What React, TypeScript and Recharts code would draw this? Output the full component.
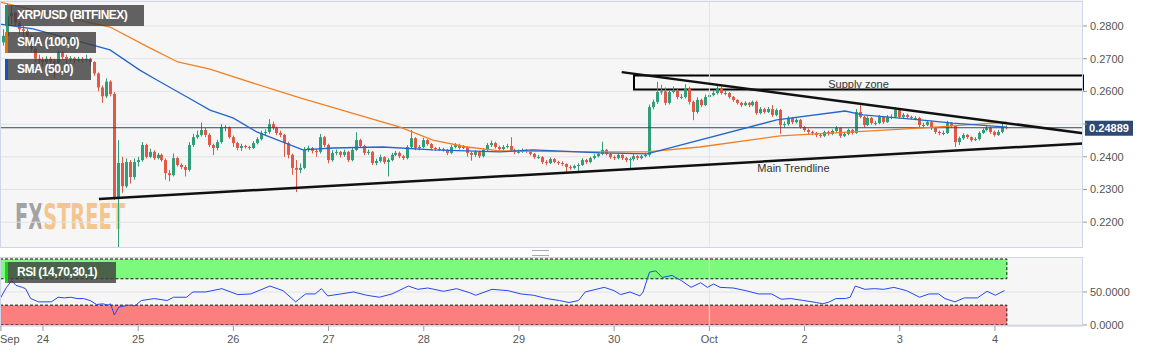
import {
  ComposedChart,
  Bar,
  Line,
  XAxis,
  YAxis,
  CartesianGrid,
  ReferenceLine,
  ReferenceArea,
  ReferenceDot,
} from 'recharts';

const FONT = '"Liberation Sans", Arial, sans-serif';
const UP = '#2f9e7a';
const DOWN = '#e35745';

// hourly XRP/USD candles from Sep 23 14:00 to Oct 4 03:00, prices x 10^4
const firstOpen = 2750;
const closes = [
  2770, 2830, 2840, 2810, 2790, 2785, 2770, 2730, 2700, 2695,
  2690, 2700, 2692, 2688, 2720, 2705, 2698, 2702, 2694, 2700, 2696, 2700, 2690, 2655, 2612, 2585, 2630, 2592, 2277, 2381, 2310, 2384, 2338, 2384,
  2390, 2436, 2400, 2415, 2396, 2406, 2390, 2350, 2344, 2396, 2375, 2369, 2360, 2436, 2460, 2467, 2482, 2467, 2436, 2427, 2445, 2491, 2491, 2460,
  2442, 2427, 2433, 2430, 2427, 2442, 2454, 2473, 2476, 2500, 2488, 2473, 2467, 2442, 2406, 2366, 2360, 2366, 2421, 2427, 2418, 2415, 2460, 2436,
  2390, 2412, 2415, 2406, 2415, 2390, 2421, 2451, 2433, 2412, 2415, 2381, 2387, 2399, 2384, 2390, 2406, 2412, 2402, 2396, 2430, 2457, 2427, 2430,
  2451, 2439, 2427, 2424, 2424, 2421, 2412, 2430, 2436, 2427, 2430, 2412, 2406, 2415, 2402, 2421, 2436, 2442, 2430, 2424, 2430, 2433, 2421, 2415,
  2415, 2421, 2418, 2409, 2399, 2399, 2384, 2381, 2393, 2384, 2381, 2378, 2369, 2366, 2372, 2375, 2390, 2384, 2396, 2402, 2409, 2421, 2409, 2399,
  2396, 2406, 2396, 2390, 2393, 2402, 2396, 2402, 2406, 2552, 2568, 2598, 2600, 2565, 2598, 2604, 2583, 2583, 2610, 2568, 2537, 2574, 2558, 2583,
  2589, 2595, 2610, 2595, 2595, 2583, 2574, 2565, 2558, 2565, 2558, 2568, 2534, 2546, 2537, 2546, 2528, 2543, 2497, 2500, 2519, 2506, 2513, 2491,
  2482, 2476, 2473, 2467, 2464, 2476, 2470, 2479, 2488, 2464, 2470, 2482, 2473, 2537, 2522, 2497, 2519, 2503, 2503, 2522, 2506, 2522, 2522, 2543,
  2522, 2528, 2522, 2519, 2519, 2497, 2497, 2506, 2488, 2476, 2473, 2473, 2503, 2494, 2445, 2457, 2467, 2460, 2451, 2454, 2473, 2482, 2488, 2476,
  2467, 2476, 2491, 2489,
];
const highs = [
  2790, 2870, 2862, 2845, 2815, 2800, 2792, 2775, 2735, 2712,
  2705, 2708, 2706, 2700, 2728, 2724, 2712, 2708, 2706, 2706, 2705, 2712, 2703, 2692, 2658, 2618, 2640, 2634, 2598, 2451, 2400, 2395, 2390, 2395,
  2400, 2445, 2440, 2425, 2420, 2412, 2410, 2395, 2360, 2410, 2400, 2380, 2375, 2445, 2470, 2480, 2505, 2488, 2472, 2440, 2452, 2500, 2497, 2493,
  2465, 2446, 2440, 2437, 2434, 2448, 2460, 2480, 2484, 2515, 2508, 2492, 2480, 2470, 2446, 2410, 2390, 2380, 2430, 2434, 2430, 2424, 2470, 2464,
  2440, 2420, 2422, 2418, 2422, 2418, 2428, 2475, 2455, 2437, 2422, 2418, 2394, 2406, 2402, 2396, 2412, 2418, 2416, 2406, 2436, 2482, 2460, 2436,
  2458, 2454, 2442, 2430, 2430, 2428, 2424, 2436, 2442, 2440, 2436, 2432, 2416, 2420, 2418, 2426, 2442, 2450, 2446, 2434, 2436, 2440, 2460, 2425,
  2422, 2426, 2424, 2420, 2412, 2406, 2402, 2390, 2398, 2396, 2388, 2386, 2380, 2374, 2376, 2380, 2396, 2394, 2400, 2408, 2414, 2446, 2424, 2412,
  2404, 2410, 2408, 2400, 2398, 2408, 2405, 2406, 2412, 2560, 2575, 2629, 2620, 2612, 2605, 2615, 2608, 2592, 2622, 2614, 2572, 2582, 2578, 2590,
  2596, 2604, 2622, 2614, 2602, 2598, 2586, 2576, 2568, 2570, 2568, 2572, 2572, 2552, 2550, 2552, 2558, 2548, 2546, 2508, 2524, 2522, 2518, 2516,
  2494, 2486, 2480, 2476, 2470, 2480, 2480, 2484, 2494, 2490, 2476, 2486, 2485, 2546, 2558, 2525, 2524, 2522, 2510, 2528, 2525, 2528, 2530, 2552,
  2546, 2534, 2532, 2526, 2524, 2522, 2504, 2512, 2510, 2490, 2480, 2480, 2510, 2506, 2498, 2462, 2472, 2470, 2462, 2460, 2478, 2487, 2494, 2492,
  2480, 2482, 2504, 2496,
];
const lows = [
  2740, 2760, 2805, 2800, 2775, 2770, 2755, 2720, 2690, 2682,
  2675, 2684, 2680, 2640, 2684, 2695, 2670, 2690, 2686, 2688, 2688, 2690, 2680, 2648, 2600, 2565, 2580, 2585, 2268, 2124, 2290, 2305, 2318, 2330,
  2370, 2385, 2395, 2396, 2390, 2392, 2385, 2330, 2325, 2340, 2370, 2362, 2340, 2355, 2430, 2455, 2462, 2460, 2430, 2405, 2420, 2440, 2478, 2455,
  2430, 2420, 2418, 2425, 2421, 2424, 2438, 2450, 2465, 2470, 2482, 2466, 2460, 2400, 2395, 2345, 2292, 2350, 2362, 2415, 2410, 2400, 2410, 2430,
  2380, 2385, 2405, 2398, 2400, 2384, 2386, 2418, 2428, 2405, 2406, 2375, 2374, 2382, 2378, 2340, 2386, 2402, 2396, 2390, 2392, 2426, 2420, 2420,
  2426, 2434, 2420, 2418, 2419, 2416, 2405, 2408, 2426, 2422, 2424, 2400, 2388, 2400, 2396, 2398, 2416, 2430, 2425, 2418, 2420, 2426, 2415, 2408,
  2410, 2412, 2412, 2404, 2394, 2394, 2378, 2374, 2378, 2380, 2375, 2372, 2352, 2360, 2362, 2350, 2372, 2378, 2380, 2392, 2398, 2405, 2404, 2394,
  2390, 2392, 2390, 2384, 2360, 2388, 2390, 2392, 2398, 2400, 2545, 2562, 2590, 2558, 2560, 2594, 2576, 2576, 2578, 2560, 2512, 2532, 2552, 2555,
  2578, 2585, 2590, 2590, 2588, 2578, 2568, 2560, 2552, 2555, 2552, 2554, 2528, 2530, 2532, 2534, 2522, 2524, 2470, 2490, 2495, 2500, 2502, 2486,
  2476, 2470, 2466, 2460, 2458, 2460, 2465, 2466, 2474, 2458, 2460, 2466, 2468, 2470, 2518, 2490, 2494, 2498, 2496, 2500, 2500, 2504, 2515, 2518,
  2516, 2518, 2516, 2514, 2512, 2490, 2490, 2494, 2482, 2470, 2466, 2466, 2470, 2488, 2430, 2436, 2452, 2455, 2446, 2448, 2450, 2470, 2478, 2470,
  2462, 2464, 2472, 2484,
];
const lastPrice = 2488.9;

// [candle index, value]
const sma50 = [
  [-0.84, 2806], [7.5, 2791], [26.9, 2727], [34.4, 2665], [38.7, 2635], [46.3, 2583], [52.1, 2543],
  [57.9, 2519], [63.9, 2476], [75.5, 2421], [83.1, 2427], [95.7, 2430], [108.3, 2421], [125.2, 2415],
  [133.5, 2421], [150.4, 2412], [162.3, 2409], [195.0, 2513], [212.2, 2540], [216.7, 2528],
  [231.1, 2513], [239.4, 2503], [253.0, 2491],
];
const sma100 = [
  [-0.84, 2873], [7.5, 2849], [26.9, 2797], [36.9, 2733], [44.0, 2690], [52.1, 2668], [57.9, 2645],
  [74.8, 2580], [100.0, 2491], [108.3, 2451], [116.9, 2430], [125.2, 2418], [150.4, 2415],
  [162.3, 2415], [175.6, 2430], [195.8, 2464], [214.2, 2476], [231.1, 2488], [253.0, 2506],
];
const rsi = [
  [-0.8, 40], [0.8, 57], [2.1, 67], [3.2, 60], [4.8, 57], [5.6, 55], [6.9, 40], [8.9, 35], [12.1, 35],
  [13.8, 42], [15.4, 41], [17.0, 42], [18.6, 40], [20.2, 40], [21.9, 37], [23.5, 31], [25.1, 32],
  [26.4, 30], [27.0, 32], [28.0, 15], [29.1, 27], [31.6, 30], [33.2, 29], [34.8, 37], [38.1, 40],
  [41.3, 37], [42.9, 42], [46.2, 42], [47.8, 50], [51.0, 50], [55.1, 55], [59.1, 46], [62.4, 47],
  [67.2, 59], [70.5, 52], [73.7, 35], [76.2, 47], [78.6, 47], [80.2, 55], [81.8, 44], [85.1, 47],
  [88.3, 50], [91.6, 45], [94.8, 42], [98.0, 47], [102.1, 59], [104.5, 54], [107.0, 56], [111.0, 51],
  [114.3, 55], [117.5, 49], [119.1, 45], [123.2, 54], [127.2, 52], [130.5, 47], [133.7, 45],
  [137.0, 40], [140.2, 37], [142.6, 34], [145.0, 37], [146.7, 50], [151.5, 57], [154.0, 52],
  [155.6, 46], [158.0, 50], [160.5, 44], [161.3, 50], [162.9, 80], [164.5, 82], [166.1, 72],
  [168.6, 75], [171.0, 67], [173.4, 57], [175.8, 64], [177.5, 57], [179.1, 62], [180.7, 57],
  [184.0, 56], [187.2, 52], [190.4, 47], [193.7, 47], [196.1, 39], [198.5, 40], [201.8, 37],
  [205.0, 34], [206.6, 32], [208.3, 35], [209.9, 40], [212.3, 40], [213.5, 42], [214.8, 59],
  [217.2, 54], [219.6, 55], [222.0, 54], [224.5, 57], [227.7, 52], [231.0, 42], [233.4, 47],
  [235.8, 47], [237.4, 40], [239.9, 35], [242.3, 41], [245.6, 41], [248.0, 51], [250.1, 45], [252.4, 52],
];

const dayTicks = [-0.6, 10, 34, 58, 82, 106, 130, 154, 178, 202, 226, 250];
const dayLabels = ['Sep', '24', '25', '26', '27', '28', '29', '30', 'Oct', '2', '3', '4'];
const priceTicks = [2200, 2300, 2400, 2500, 2600, 2700, 2800];
const rsiTicks = [0, 50];

// drawn annotations: [candle index, price]
const upperTrend = [[155.9, 2659], [272.2, 2472]];
const mainTrend = [[24.1, 2271], [272.2, 2441]];
const supplyZone = { from: 159, to: 272.2, low: 2606, high: 2649 };

const X_DOMAIN: [number, number] = [-0.84, 272.2];

const candles = closes.map((c, i) => ({
  i,
  open: i === 0 ? firstOpen : closes[i - 1],
  close: c,
  high: highs[i],
  low: lows[i],
  range: [lows[i], highs[i]],
}));
const toPts = (arr: number[][]) => arr.map(([i, v]) => ({ i, v }));

function Candle(props: any) {
  const { x, y, width, height, payload } = props;
  if (!payload || x == null) return null;
  const { open, close, high, low } = payload;
  const top = Math.min(y, y + height);
  const h = Math.abs(height);
  const k = high === low ? 0 : h / (high - low);
  const py = (v: number) => top + (high - v) * k;
  const color = close >= open ? UP : DOWN;
  const cx = Math.round(x + width / 2 - 0.5) + 0.5;
  const b1 = py(Math.max(open, close));
  const b2 = py(Math.min(open, close));
  return (
    <g>
      <line x1={cx} x2={cx} y1={top} y2={top + h} stroke={color} strokeWidth={1} />
      <rect x={cx - 1.5} y={b1} width={3} height={Math.max(1, b2 - b1)} fill={color} />
    </g>
  );
}

function PriceTag(props: any) {
  const vb = props.viewBox;
  if (!vb) return null;
  const x = vb.x + vb.width + 2;
  return (
    <g>
      <rect x={x} y={vb.y - 7} width={48} height={15} fill="#2d4a72" />
      <text x={x + 24} y={vb.y + 4} textAnchor="middle" fill="#fff" fontSize={11} fontWeight="bold">
        {(lastPrice / 10000).toFixed(5)}
      </text>
    </g>
  );
}

function DayTick(props: any) {
  const { x, y, payload } = props;
  const k = dayTicks.indexOf(payload.value);
  const first = k === 0;
  return (
    <text x={first ? 0 : x} y={y} dy={9} textAnchor={first ? 'start' : 'middle'} fill="#555" fontSize={11}>
      {dayLabels[k]}
    </text>
  );
}

function Tag({ top, width, strip, text }: { top: number; width: number; strip: string; text: string }) {
  return (
    <div
      style={{
        position: 'absolute', left: 5, top, width, height: 21, background: 'rgba(60,60,60,0.8)',
        borderLeft: `3px solid ${strip}`, boxSizing: 'border-box', color: '#fff', fontSize: 12,
        fontWeight: 'bold', letterSpacing: -0.5, lineHeight: '21px', paddingLeft: 9, whiteSpace: 'nowrap',
      }}
    >
      {text}
    </div>
  );
}

const WM_FONT = '"Liberation Sans Narrow", "DejaVu Sans Condensed", sans-serif';

export default function App() {
  return (
    <div style={{ position: 'relative', width: 1153, height: 352, background: '#fff', fontFamily: FONT, overflow: 'hidden' }}>
      <style>{'body{margin:0}'}</style>
      <div style={{ position: 'absolute', left: 0, top: 1, width: 1083, height: 247, background: '#f6f6f6' }} />
      <div style={{ position: 'absolute', left: 0, top: 257, width: 1083, height: 69, background: '#f6f6f6' }} />
      <svg width={1083} height={248} style={{ position: 'absolute', left: 0, top: 0 }}>
        <defs>
          <linearGradient id="wmFill" gradientUnits="userSpaceOnUse" x1={0} y1={0} x2={1083} y2={0}>
            <stop offset={41 / 1083} stopColor="#a3a3a3" />
            <stop offset={41 / 1083} stopColor="#f3c58f" />
          </linearGradient>
        </defs>
        <g transform="translate(0,229) scale(1,1.45)">
          <text x={15} y={0} fontSize={25} fontWeight="bold" fontFamily={WM_FONT} fill="url(#wmFill)" textLength={110} lengthAdjust="spacingAndGlyphs">
            FXSTREET
          </text>
        </g>
      </svg>

      <div style={{ position: 'absolute', left: 0, top: 0 }}>
        <ComposedChart width={1153} height={248} data={candles} margin={{ top: 1, right: 0, bottom: 0, left: 0 }}>
          <CartesianGrid vertical={false} stroke="#e3e3e3" />
          <XAxis dataKey="i" type="number" domain={X_DOMAIN} allowDataOverflow hide />
          <YAxis
            orientation="right"
            width={70}
            domain={[2121.1, 2876.5]}
            allowDataOverflow
            ticks={priceTicks}
            tickFormatter={(v: number) => (v === 2500 ? '' : (v / 10000).toFixed(4))}
            tick={{ fill: '#555', fontSize: 11 }}
            tickLine={{ stroke: '#999' }}
            tickSize={4}
            tickMargin={3}
            axisLine={false}
          />
          <ReferenceLine x={178} stroke="#e3e3e3" />
          <ReferenceArea
            x1={supplyZone.from}
            x2={supplyZone.to}
            y1={supplyZone.low}
            y2={supplyZone.high}
            fill="none"
            fillOpacity={0}
            stroke="#000"
            strokeWidth={2}
            label={{ value: 'Supply zone', position: 'insideBottom', offset: 1, fill: '#333', fontSize: 11 }}
          />
          <ReferenceLine y={lastPrice} stroke="#2b4872" label={<PriceTag />} />
          <Bar dataKey="range" barSize={3} shape={(p: any) => <Candle {...p} />} isAnimationActive={false} />
          <Line data={toPts(sma100)} dataKey="v" type="linear" stroke="#f57f20" strokeWidth={1.3} dot={false} activeDot={false} isAnimationActive={false} />
          <Line data={toPts(sma50)} dataKey="v" type="linear" stroke="#2266cc" strokeWidth={1.3} dot={false} activeDot={false} isAnimationActive={false} />
          <ReferenceLine
            segment={[{ x: upperTrend[0][0], y: upperTrend[0][1] }, { x: upperTrend[1][0], y: upperTrend[1][1] }]}
            stroke="#111"
            strokeWidth={2.5}
          />
          <ReferenceLine
            segment={[{ x: mainTrend[0][0], y: mainTrend[0][1] }, { x: mainTrend[1][0], y: mainTrend[1][1] }]}
            stroke="#111"
            strokeWidth={2.5}
          />
          <ReferenceDot
            x={199.2}
            y={2366}
            r={0}
            fill="none"
            stroke="none"
            label={{ value: 'Main Trendline', position: 'center', fill: '#333', fontSize: 11 }}
          />
        </ComposedChart>
      </div>

      <div style={{ position: 'absolute', left: 0, top: 257 }}>
        <ComposedChart width={1153} height={95} margin={{ top: 0, right: 0, bottom: 0, left: 0 }}>
          <CartesianGrid vertical={false} stroke="#e3e3e3" />
          <XAxis
            dataKey="i"
            type="number"
            domain={X_DOMAIN}
            allowDataOverflow
            ticks={dayTicks}
            interval={0}
            height={26}
            tickSize={5}
            tickMargin={3}
            axisLine={{ stroke: '#cfd7e6' }}
            tickLine={{ stroke: '#999' }}
            tick={<DayTick />}
          />
          <YAxis
            orientation="right"
            width={70}
            domain={[-1.6, 103]}
            allowDataOverflow
            ticks={rsiTicks}
            tickFormatter={(v: number) => v.toFixed(4)}
            tick={{ fill: '#555', fontSize: 11 }}
            tickLine={{ stroke: '#999' }}
            tickSize={4}
            tickMargin={3}
            axisLine={false}
          />
          <ReferenceArea x1={-0.84} x2={253} y1={70} y2={100} fill="#7dfa7d" fillOpacity={1} stroke="#111" strokeDasharray="3 2" />
          <ReferenceArea x1={-0.84} x2={253} y1={0} y2={30} fill="#fb7f7f" fillOpacity={1} stroke="#111" strokeDasharray="3 2" />
          <ReferenceLine x={178} stroke="#e3e3e3" />
          <Line data={toPts(rsi)} dataKey="v" type="linear" stroke="#2348f0" strokeWidth={1} dot={false} activeDot={false} isAnimationActive={false} />
        </ComposedChart>
      </div>

      <div style={{ position: 'absolute', left: 0, top: 1, width: 1083, height: 247, border: '1px solid #cfd7e6', boxSizing: 'border-box', pointerEvents: 'none' }} />
      <div style={{ position: 'absolute', left: 0, top: 257, width: 1083, height: 69, border: '1px solid #cfd7e6', boxSizing: 'border-box', pointerEvents: 'none' }} />
      <div style={{ position: 'absolute', left: 532, top: 250, width: 17, height: 4, borderTop: '1px solid #aaa', borderBottom: '1px solid #aaa' }} />

      <Tag top={5} width={139} strip="#2a8c6d" text="XRP/USD (BITFINEX)" />
      <Tag top={32} width={91} strip="#ef6c00" text="SMA (100,0)" />
      <Tag top={59} width={86} strip="#1753b5" text="SMA (50,0)" />
      <Tag top={262} width={111} strip="#12d612" text="RSI (14,70,30,1)" />
    </div>
  );
}
